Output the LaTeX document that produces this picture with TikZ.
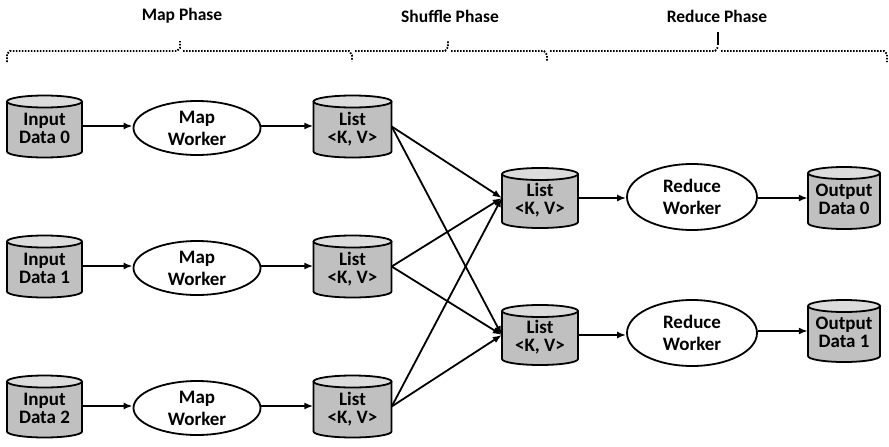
\documentclass[tikz,border=0pt]{standalone}
\usepackage{fontspec}
\setmainfont{Carlito}
\usetikzlibrary{arrows.meta,shapes.geometric}
\definecolor{cylbody}{HTML}{C0C0C0}
\definecolor{cyltop}{HTML}{DCDCDC}
% #1 x centre, #2 y centre (page, downwards), #3 half width, #4 half height
\newcommand\drawcyl[4]{%
  \fill[cylbody] (#1-#3,-#2+#4-6) -- (#1-#3,-#2-#4+6) arc(180:360:#3 and 6) -- (#1+#3,-#2+#4-6) -- cycle;
  \fill[cyltop] (#1,-#2+#4-6) ellipse (#3 and 6);
  \draw[cylline] (#1-#3,-#2+#4-6) -- (#1-#3,-#2-#4+6) arc(180:360:#3 and 6) -- (#1+#3,-#2+#4-6);
  \draw[cylline] (#1,-#2+#4-6) ellipse (#3 and 6);
}
\newcommand\twolines[2]{\raisebox{-8pt}[0pt][0pt]{\begin{tabular}{@{}c@{}}#1\\[-3pt]#2\end{tabular}}}
\begin{document}
\begin{tikzpicture}[x=1pt,y=1pt,
  cylline/.style={line width=1.8pt},
  cyltxt/.style={inner sep=0pt,align=center,font=\fontsize{19}{21}\selectfont\bfseries},
  worker/.style={ellipse,draw,line width=1.8pt,fill=white,inner sep=0pt,align=center,font=\fontsize{19}{21}\selectfont\bfseries},
  phase/.style={inner sep=0pt,font=\fontsize{17.5}{19}\selectfont\bfseries},
  flow/.style={line width=1.8pt,-{Latex[length=9pt,width=7pt]}},
  brace/.style={line width=1.8pt,dash pattern=on 1.6pt off 1.4pt},
]
\useasboundingbox (0,0) rectangle (889,-447);

% phase labels
\node[phase] (pmap) at (182,-16) {Map Phase};
\node[phase] (pshuf) at (450,-16) {Shuffle Phase};
\node[phase] (pred) at (717,-16) {Reduce Phase};

% brace
\draw[brace] (7,-62) -- (7,-54) -- (10,-51) -- (177,-51) -- (180,-48) -- (180,-41);
\draw[brace] (183,-51) -- (349,-51) -- (352,-55) -- (352,-61);
\draw[brace] (355,-51) -- (445,-51) -- (448,-47) -- (448,-41);
\draw[brace] (451,-51) -- (544,-51) -- (547,-55) -- (547,-61);
\draw[brace] (550,-51) -- (715,-51) -- (718,-47);
\draw[line width=1.8pt] (718,-45) -- (718,-32);
\draw[brace] (721,-51) -- (884,-51) -- (887,-54) -- (887,-62);

% cylinders
\drawcyl{44.5}{126.5}{37.5}{31}
\drawcyl{44.5}{266.5}{37.5}{31}
\drawcyl{44.5}{406.5}{37.5}{31}
\drawcyl{352.5}{126.5}{39}{31}
\drawcyl{352.5}{266.5}{39}{31}
\drawcyl{352.5}{406.5}{39}{31}
\drawcyl{540}{198}{38}{30}
\drawcyl{540}{335}{38}{30}
\drawcyl{844}{198}{36}{31}
\drawcyl{844}{331}{36}{31}

% text nodes in cylinders
\node[cyltxt,minimum width=75pt,minimum height=62pt] (in0) at (44.5,-126.5) {\twolines{Input}{Data 0}};
\node[cyltxt,minimum width=75pt,minimum height=62pt] (in1) at (44.5,-266.5) {\twolines{Input}{Data 1}};
\node[cyltxt,minimum width=75pt,minimum height=62pt] (in2) at (44.5,-406.5) {\twolines{Input}{Data 2}};
\node[cyltxt,minimum width=78pt,minimum height=62pt] (l0) at (352.5,-126.5) {\twolines{List}{<K, V>}};
\node[cyltxt,minimum width=78pt,minimum height=62pt] (l1) at (352.5,-266.5) {\twolines{List}{<K, V>}};
\node[cyltxt,minimum width=78pt,minimum height=62pt] (l2) at (352.5,-406.5) {\twolines{List}{<K, V>}};
\node[cyltxt,minimum width=76pt,minimum height=60pt] (r0) at (540,-198) {\twolines{List}{<K, V>}};
\node[cyltxt,minimum width=76pt,minimum height=60pt] (r1) at (540,-335) {\twolines{List}{<K, V>}};
\node[cyltxt,minimum width=72pt,minimum height=62pt] (o0) at (844,-198) {\twolines{Output}{Data 0}};
\node[cyltxt,minimum width=72pt,minimum height=62pt] (o1) at (844,-331) {\twolines{Output}{Data 1}};

% workers
\node[worker,minimum width=127pt,minimum height=54pt] (m0) at (197,-128) {Map\\[1pt]Worker};
\node[worker,minimum width=127pt,minimum height=54pt] (m1) at (197,-268) {Map\\[1pt]Worker};
\node[worker,minimum width=127pt,minimum height=54pt] (m2) at (197,-408) {Map\\[1pt]Worker};
\node[worker,minimum width=130pt,minimum height=66pt] (w0) at (692,-197) {Reduce\\[1pt]Worker};
\node[worker,minimum width=130pt,minimum height=66pt] (w1) at (692,-333) {Reduce\\[1pt]Worker};

% connectors
\draw[flow] (in0.east |- 0,-126) -- (m0.west |- 0,-126);
\draw[flow] (in1.east |- 0,-266) -- (m1.west |- 0,-266);
\draw[flow] (in2.east |- 0,-406) -- (m2.west |- 0,-406);
\draw[flow] (m0.east |- 0,-126) -- (l0.west |- 0,-126);
\draw[flow] (m1.east |- 0,-266) -- (l1.west |- 0,-266);
\draw[flow] (m2.east |- 0,-406) -- (l2.west |- 0,-406);
\foreach \s in {l0,l1,l2}{
  \draw[flow] (\s.east) -- (r0.west);
  \draw[flow] (\s.east) -- (r1.west);
}
\draw[flow] (r0.east) -- (w0.west |- r0.east);
\draw[flow] (r1.east) -- (w1.west |- r1.east);
\draw[flow] (w0.east |- o0.west) -- (o0.west);
\draw[flow] (w1.east |- o1.west) -- (o1.west);
\end{tikzpicture}
\end{document}
